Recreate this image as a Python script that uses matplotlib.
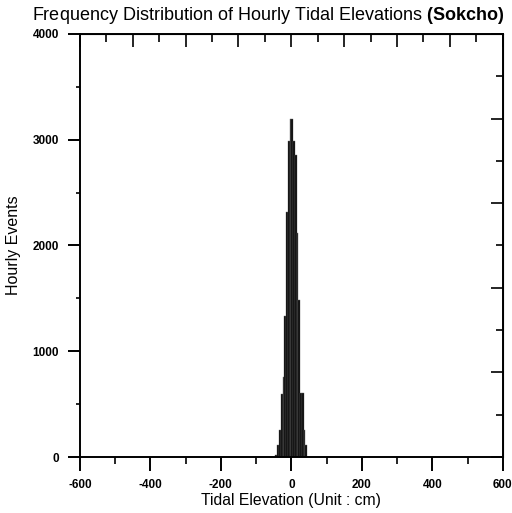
import matplotlib
matplotlib.use('Agg')
import matplotlib.pyplot as plt
import numpy as np
from matplotlib.ticker import MultipleLocator, NullFormatter

plt.rcParams['font.family'] = ['Liberation Sans', 'DejaVu Sans']
plt.rcParams['axes.unicode_minus'] = False
plt.rcParams['mathtext.fontset'] = 'custom'
plt.rcParams['mathtext.bf'] = 'Liberation Sans:bold'
plt.rcParams['mathtext.rm'] = 'Liberation Sans'

# histogram of hourly tidal elevation (5 cm bins)
bin_left = [-45, -40, -35, -30, -25, -20, -15, -10, -5, 0, 5, 10, 15, 20, 25, 30, 35, 40]
counts = [20, 113, 255, 600, 760, 1330, 2320, 2990, 3200, 3200, 2985, 2855, 2120, 1485, 605, 605, 255, 113]
bin_width = 5

fig = plt.figure(figsize=(5.12, 5.13), dpi=100)
ax = fig.add_axes([0.156, 0.109, 0.826, 0.825])

ax.bar(bin_left, counts, width=bin_width, align='edge',
       color='black', edgecolor='#6a6a6a', linewidth=0.3)

ax.set_xlim(-600, 600)
ax.set_ylim(0, 4000)

for s in ax.spines.values():
    s.set_linewidth(1.4)

ax.xaxis.set_major_locator(MultipleLocator(200))
ax.xaxis.set_minor_locator(MultipleLocator(100))
ax.yaxis.set_major_locator(MultipleLocator(1000))
ax.yaxis.set_minor_locator(MultipleLocator(500))
ax.tick_params(axis='x', which='major', direction='out', length=10, width=1.4, pad=6)
ax.tick_params(axis='x', which='minor', direction='out', length=5, width=1.2)
ax.tick_params(axis='y', which='major', direction='out', length=9, width=1.4, pad=6)
ax.tick_params(axis='y', which='minor', direction='out', length=3, width=1.2)
for lab in ax.get_xticklabels() + ax.get_yticklabels():
    lab.set_fontweight('bold')
    lab.set_fontsize(8.5)

top = ax.secondary_xaxis('top')
top.xaxis.set_major_locator(MultipleLocator(150))
top.xaxis.set_minor_locator(MultipleLocator(75))
top.xaxis.set_major_formatter(NullFormatter())
top.tick_params(which='major', direction='in', length=9, width=1.2)
top.tick_params(which='minor', direction='in', length=6, width=1.2)

right = ax.secondary_yaxis('right')
right.yaxis.set_major_locator(MultipleLocator(800))
right.yaxis.set_minor_locator(MultipleLocator(400))
right.yaxis.set_major_formatter(NullFormatter())
right.tick_params(which='major', direction='in', length=9, width=1.2)
right.tick_params(which='minor', direction='in', length=5, width=1.2)

ax.set_xlabel('Tidal Elevation (Unit : cm)', fontsize=11.3, labelpad=1)
ax.set_ylabel('Hourly Events', fontsize=11.5, labelpad=8)
fig.text(0.524, 0.97, r'Frequency Distribution of Hourly Tidal Elevations $\mathbf{(Sokcho)}$',
         ha='center', va='center', fontsize=13)

fig.savefig('out.png', dpi=100)
